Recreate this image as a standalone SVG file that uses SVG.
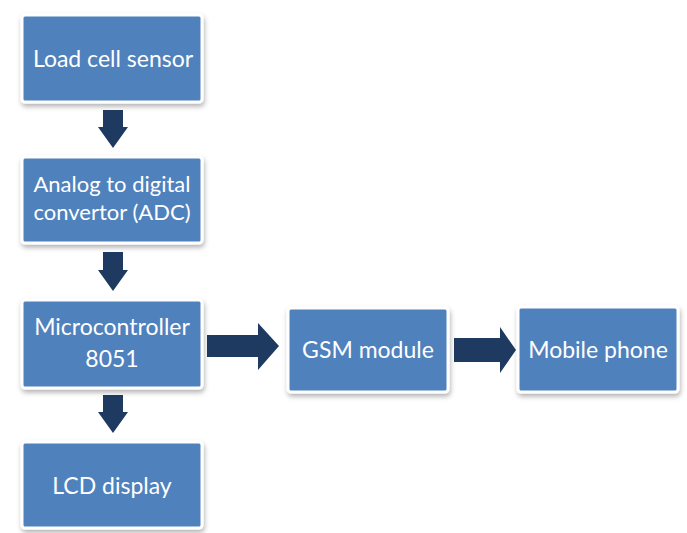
<svg xmlns="http://www.w3.org/2000/svg" width="687" height="533" viewBox="0 0 687 533">
<defs>
<filter id="sh" x="-10%" y="-10%" width="125%" height="130%">
<feDropShadow dx="1" dy="3" stdDeviation="2.5" flood-color="#000" flood-opacity="0.3"/>
</filter>
</defs>
<style>
.box{fill:#4F81BD;stroke:#fff;stroke-width:3;filter:url(#sh)}
.t{font-family:Lato,"Liberation Sans",sans-serif;font-size:23px;fill:#fff;text-anchor:middle}
.s{font-size:22px}
.ar{fill:#1F3A60}
</style>
<rect width="687" height="533" fill="#fff"/>
<g id="connectors">
<path class="ar" d="M103,110 H123 V127 H128 L113,148 L98,127 H103 Z"/>
<path class="ar" d="M103,252 H123 V270 H128 L113,291 L98,270 H103 Z"/>
<path class="ar" d="M103,395 H123 V412 H128 L113,433 L98,412 H103 Z"/>
<path class="ar" d="M207,335 H258 V323 L279,346 L258,370 V357 H207 Z"/>
<path class="ar" d="M454,338 H500 V327 L516,350 L500,373 V362 H454 Z"/>
</g>
<g id="load"><rect class="box" x="22" y="15" width="180" height="87" rx="3"/><text class="t" x="113" y="67">Load cell sensor</text></g>
<g id="adc"><rect class="box" x="22" y="157" width="180" height="86" rx="3"/><text class="t s" x="112" y="192">Analog to digital</text><text class="t s" x="112" y="220">convertor (ADC)</text></g>
<g id="mcu"><rect class="box" x="22" y="300" width="180" height="88" rx="3"/><text class="t" x="112" y="335">Microcontroller</text><text class="t" x="112" y="367">8051</text></g>
<g id="lcd"><rect class="box" x="22" y="442" width="180" height="86" rx="3"/><text class="t" x="112" y="494">LCD display</text></g>
<g id="gsm"><rect class="box" x="288" y="308" width="160" height="84" rx="3"/><text class="t" x="368" y="358">GSM module</text></g>
<g id="mobile"><rect class="box" x="518" y="307" width="160" height="85" rx="3"/><text class="t" x="598" y="358">Mobile phone</text></g>
</svg>
